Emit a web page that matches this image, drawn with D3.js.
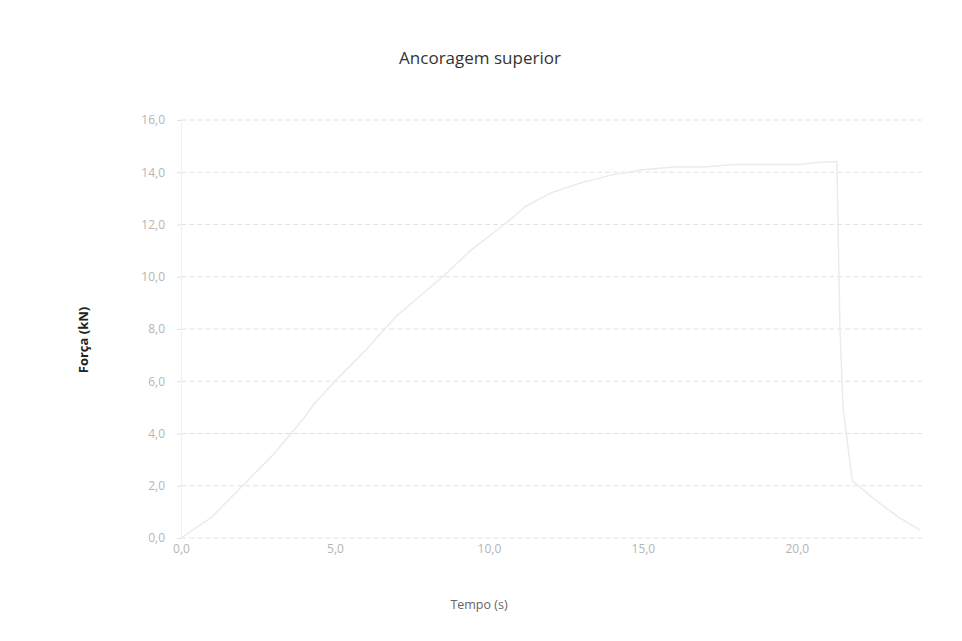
<!DOCTYPE html>
<html><head><meta charset="utf-8">
<script src="https://cdn.jsdelivr.net/npm/d3@7"></script>
<style>body{margin:0;background:#fff}svg{display:block}</style>
</head><body>
<svg id="c" width="962" height="641"></svg>
<script>
const title = "Ancoragem superior";
const xTitle = "Tempo (s)";
const yTitle = "Força (kN)";
const xTicks = [0, 5, 10, 15, 20];
const xTickLabels = ["0,0", "5,0", "10,0", "15,0", "20,0"];
const yTicks = [0, 2, 4, 6, 8, 10, 12, 14, 16];
const yTickLabels = ["0,0", "2,0", "4,0", "6,0", "8,0", "10,0", "12,0", "14,0", "16,0"];
const time = [0, 1, 2, 3, 4, 4.3, 5, 6, 7, 7.8, 8.5, 9.4, 10.5, 11.2, 12, 13, 14, 15, 16, 17, 18, 19, 20, 21, 21.3, 21.4, 21.5, 21.8, 22.5, 23.3, 24];
const force = [0, 0.8, 2.0, 3.2, 4.6, 5.1, 6.0, 7.2, 8.5, 9.3, 10.0, 11.0, 12.0, 12.7, 13.2, 13.6, 13.9, 14.1, 14.2, 14.2, 14.3, 14.3, 14.3, 14.4, 14.4, 8.0, 5.0, 2.2, 1.5, 0.8, 0.3];

const svg = d3.select("#c");
const x = d3.scaleLinear().domain([0, 24]).range([181, 920]);
const y = d3.scaleLinear().domain([0, 16]).range([538, 120]);

// gridlines
svg.append("g").selectAll("line").data(yTicks).join("line")
  .attr("x1", x(0)).attr("x2", 925)
  .attr("y1", d => y(d)).attr("y2", d => y(d))
  .attr("stroke", "#e2e2e2").attr("stroke-width", 1).attr("stroke-dasharray", "5,3");

// y axis
const yAxis = d3.axisLeft(y).tickValues(yTicks).tickFormat((d, i) => yTickLabels[i]).tickSize(4).tickPadding(12);
const gy = svg.append("g").attr("transform", `translate(${x(0)},0)`).call(yAxis);
gy.select(".domain").attr("stroke", "#f0f0f0");
gy.selectAll(".tick line").attr("stroke", "#e0e0e0");
gy.selectAll("text").attr("fill", "#b5b5b5").style("font-family", "Open Sans, sans-serif").style("font-size", "12px");

// x axis
const xAxis = d3.axisBottom(x).tickValues(xTicks).tickFormat((d, i) => xTickLabels[i]).tickSize(0).tickPadding(6);
const gx = svg.append("g").attr("transform", `translate(0,${y(0)})`).call(xAxis);
gx.select(".domain").remove();
gx.selectAll("text").attr("fill", "#b5b5b5").style("font-family", "Open Sans, sans-serif").style("font-size", "12px");

// data line
const line = d3.line().x((d, i) => x(time[i])).y(d => y(d));
svg.append("path").datum(force).attr("d", line)
  .attr("fill", "none").attr("stroke", "#ebebeb").attr("stroke-width", 1.5);

// titles
svg.append("text").attr("x", 480).attr("y", 64).attr("text-anchor", "middle")
  .attr("fill", "#333").style("font-family", "Open Sans, sans-serif").style("font-size", "17px").text(title);
svg.append("text").attr("x", 479).attr("y", 609).attr("text-anchor", "middle")
  .attr("fill", "#666").style("font-family", "Open Sans, sans-serif").style("font-size", "12.5px").text(xTitle);
svg.append("text").attr("transform", "translate(88,340) rotate(-90)").attr("text-anchor", "middle")
  .attr("fill", "#222").style("font-family", "Open Sans, sans-serif").style("font-size", "13px").style("font-weight", "bold").text(yTitle);
</script>
</body></html>
